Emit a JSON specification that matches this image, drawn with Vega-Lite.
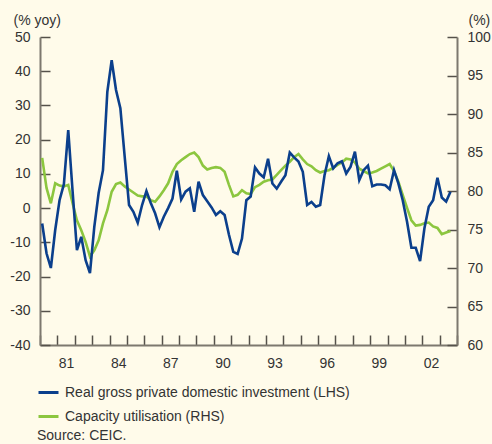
{
  "$schema": "https://vega.github.io/schema/vega-lite/v6.json",
  "width": 417,
  "height": 308,
  "autosize": {"type": "none"},
  "padding": {"left": 40, "top": 37, "right": 35, "bottom": 99},
  "background": "#fffbea",
  "config": {
    "view": {"stroke": null},
    "font": "Liberation Sans",
    "axis": {
      "domainColor": "#7d786e",
      "domainWidth": 2,
      "tickColor": "#55514a",
      "tickWidth": 1.5,
      "tickSize": -10,
      "labelFont": "Liberation Sans",
      "labelFontSize": 14,
      "labelColor": "#333333",
      "grid": false,
      "titleFont": "Liberation Sans",
      "titleFontSize": 14,
      "titleFontWeight": "normal",
      "titleColor": "#333333"
    },
    "legend": {
      "orient": "none",
      "legendX": -3,
      "legendY": 344,
      "symbolType": "stroke",
      "symbolStrokeWidth": 3,
      "symbolSize": 400,
      "labelFont": "Liberation Sans",
      "labelFontSize": 14,
      "labelColor": "#333333",
      "labelLimit": 0,
      "rowPadding": 5,
      "padding": 0,
      "labelOffset": 5
    }
  },
  "title": {
    "text": "Source: CEIC.",
    "orient": "bottom",
    "anchor": "start",
    "frame": "group",
    "font": "Liberation Sans",
    "fontSize": 14,
    "fontWeight": "normal",
    "color": "#333333",
    "offset": 5,
    "dx": -3
  },
  "data": {
    "values": [
      {"t": 1980.125, "inv": -4.5, "cap": 84.3},
      {"t": 1980.375, "inv": -13.2, "cap": 80.4},
      {"t": 1980.625, "inv": -17.5, "cap": 78.4},
      {"t": 1980.875, "inv": -6.4, "cap": 81.0},
      {"t": 1981.125, "inv": 2.3, "cap": 80.7},
      {"t": 1981.375, "inv": 7.0, "cap": 80.6},
      {"t": 1981.625, "inv": 22.8, "cap": 80.8},
      {"t": 1981.875, "inv": 5.0, "cap": 78.4},
      {"t": 1982.125, "inv": -12.3, "cap": 76.2},
      {"t": 1982.375, "inv": -8.4, "cap": 74.9},
      {"t": 1982.625, "inv": -15.2, "cap": 73.4},
      {"t": 1982.875, "inv": -19.0, "cap": 71.5},
      {"t": 1983.125, "inv": -5.5, "cap": 72.3},
      {"t": 1983.375, "inv": 4.4, "cap": 73.6},
      {"t": 1983.625, "inv": 11.1, "cap": 75.8},
      {"t": 1983.875, "inv": 34.0, "cap": 77.5},
      {"t": 1984.125, "inv": 43.2, "cap": 79.9},
      {"t": 1984.375, "inv": 34.5, "cap": 80.9},
      {"t": 1984.625, "inv": 29.2, "cap": 81.1},
      {"t": 1984.875, "inv": 15.0, "cap": 80.6},
      {"t": 1985.125, "inv": 0.9, "cap": 80.2},
      {"t": 1985.375, "inv": -1.1, "cap": 79.8},
      {"t": 1985.625, "inv": -4.3, "cap": 79.4},
      {"t": 1985.875, "inv": 0.9, "cap": 79.3},
      {"t": 1986.125, "inv": 5.0, "cap": 79.3},
      {"t": 1986.375, "inv": 1.5, "cap": 78.8},
      {"t": 1986.625, "inv": -1.5, "cap": 78.6},
      {"t": 1986.875, "inv": -5.6, "cap": 79.3},
      {"t": 1987.125, "inv": -2.5, "cap": 80.1},
      {"t": 1987.375, "inv": 0.0, "cap": 81.0},
      {"t": 1987.625, "inv": 2.8, "cap": 82.5},
      {"t": 1987.875, "inv": 10.9, "cap": 83.5},
      {"t": 1988.125, "inv": 2.5, "cap": 84.0},
      {"t": 1988.375, "inv": 4.8, "cap": 84.4},
      {"t": 1988.625, "inv": 5.8, "cap": 84.8},
      {"t": 1988.875, "inv": -1.1, "cap": 85.0},
      {"t": 1989.125, "inv": 7.7, "cap": 84.4},
      {"t": 1989.375, "inv": 3.8, "cap": 83.3},
      {"t": 1989.625, "inv": 2.0, "cap": 82.8},
      {"t": 1989.875, "inv": 0.2, "cap": 83.0},
      {"t": 1990.125, "inv": -2.0, "cap": 83.1},
      {"t": 1990.375, "inv": -0.9, "cap": 83.0},
      {"t": 1990.625, "inv": -2.0, "cap": 82.5},
      {"t": 1990.875, "inv": -7.8, "cap": 80.8},
      {"t": 1991.125, "inv": -12.8, "cap": 79.3},
      {"t": 1991.375, "inv": -13.4, "cap": 79.5},
      {"t": 1991.625, "inv": -8.9, "cap": 80.1},
      {"t": 1991.875, "inv": 2.3, "cap": 79.7},
      {"t": 1992.125, "inv": 3.4, "cap": 79.6},
      {"t": 1992.375, "inv": 11.9, "cap": 80.5},
      {"t": 1992.625, "inv": 10.1, "cap": 80.8},
      {"t": 1992.875, "inv": 9.0, "cap": 81.2},
      {"t": 1993.125, "inv": 14.4, "cap": 81.4},
      {"t": 1993.375, "inv": 7.2, "cap": 81.5},
      {"t": 1993.625, "inv": 5.7, "cap": 82.1},
      {"t": 1993.875, "inv": 7.7, "cap": 82.7},
      {"t": 1994.125, "inv": 9.6, "cap": 83.3},
      {"t": 1994.375, "inv": 16.2, "cap": 83.8},
      {"t": 1994.625, "inv": 14.8, "cap": 84.4},
      {"t": 1994.875, "inv": 13.6, "cap": 84.8},
      {"t": 1995.125, "inv": 10.6, "cap": 84.1},
      {"t": 1995.375, "inv": 0.9, "cap": 83.5},
      {"t": 1995.625, "inv": 1.8, "cap": 83.2},
      {"t": 1995.875, "inv": 0.4, "cap": 82.7},
      {"t": 1996.125, "inv": 0.9, "cap": 82.4},
      {"t": 1996.375, "inv": 9.6, "cap": 82.6},
      {"t": 1996.625, "inv": 15.2, "cap": 82.7},
      {"t": 1996.875, "inv": 11.6, "cap": 83.0},
      {"t": 1997.125, "inv": 13.1, "cap": 83.4},
      {"t": 1997.375, "inv": 13.7, "cap": 83.7},
      {"t": 1997.625, "inv": 10.1, "cap": 84.2},
      {"t": 1997.875, "inv": 12.1, "cap": 84.1},
      {"t": 1998.125, "inv": 16.5, "cap": 83.7},
      {"t": 1998.375, "inv": 8.2, "cap": 82.9},
      {"t": 1998.625, "inv": 11.1, "cap": 82.6},
      {"t": 1998.875, "inv": 12.4, "cap": 82.3},
      {"t": 1999.125, "inv": 6.4, "cap": 82.4},
      {"t": 1999.375, "inv": 6.9, "cap": 82.6},
      {"t": 1999.625, "inv": 6.9, "cap": 82.9},
      {"t": 1999.875, "inv": 6.7, "cap": 83.2},
      {"t": 2000.125, "inv": 5.5, "cap": 83.5},
      {"t": 2000.375, "inv": 11.1, "cap": 82.6},
      {"t": 2000.625, "inv": 7.2, "cap": 81.2},
      {"t": 2000.875, "inv": 2.3, "cap": 79.5},
      {"t": 2001.125, "inv": -4.0, "cap": 77.8},
      {"t": 2001.375, "inv": -11.6, "cap": 76.2},
      {"t": 2001.625, "inv": -11.6, "cap": 75.5},
      {"t": 2001.875, "inv": -15.5, "cap": 75.6},
      {"t": 2002.125, "inv": -5.9, "cap": 75.8},
      {"t": 2002.375, "inv": 0.4, "cap": 75.9},
      {"t": 2002.625, "inv": 2.3, "cap": 75.4},
      {"t": 2002.875, "inv": 8.9, "cap": 75.2},
      {"t": 2003.125, "inv": 3.1, "cap": 74.4},
      {"t": 2003.375, "inv": 1.9, "cap": 74.6},
      {"t": 2003.625, "inv": 4.8, "cap": 74.8}
    ]
  },
  "encoding": {
    "x": {
      "field": "t",
      "type": "quantitative",
      "scale": {"domain": [1980, 2004], "nice": false, "zero": false},
      "axis": {
        "title": null,
        "values": [1980, 1981, 1982, 1983, 1984, 1985, 1986, 1987, 1988, 1989, 1990, 1991, 1992, 1993, 1994, 1995, 1996, 1997, 1998, 1999, 2000, 2001, 2002, 2003, 2004],
        "labelExpr": "(datum.value - 1981) % 3 == 0 && datum.value < 2004 ? substring(toString(datum.value), 2) : ''",
        "labelOffset": 8.67,
        "labelFlush": false,
        "labelOverlap": false,
        "labelPadding": 21,
        "labelBaseline": "top"
      }
    }
  },
  "layer": [
    {
      "mark": {"type": "line", "strokeWidth": 2.6, "clip": true},
      "encoding": {
        "y": {
          "field": "cap",
          "type": "quantitative",
          "scale": {"domain": [60, 100], "nice": false, "zero": false},
          "axis": {
            "orient": "right",
            "values": [60, 65, 70, 75, 80, 85, 90, 95, 100],
            "labelPadding": 20,
            "title": "(%)",
            "titleAngle": 0,
            "titleAlign": "left",
            "titleBaseline": "alphabetic",
            "titleX": 11,
            "titleY": -13
          }
        },
        "color": {
          "datum": "Capacity utilisation (RHS)",
          "type": "nominal",
          "scale": {
            "domain": ["Real gross private domestic investment (LHS)", "Capacity utilisation (RHS)"],
            "range": ["#0b3f8c", "#8cc63f"]
          },
          "legend": {"title": null}
        }
      }
    },
    {
      "mark": {"type": "line", "strokeWidth": 2.6, "clip": true},
      "encoding": {
        "y": {
          "field": "inv",
          "type": "quantitative",
          "scale": {"domain": [-40, 50], "nice": false, "zero": false},
          "axis": {
            "orient": "left",
            "values": [-40, -30, -20, -10, 0, 10, 20, 30, 40, 50],
            "labelExpr": "toString(datum.value)",
            "labelPadding": 20,
            "title": "(% yoy)",
            "titleAngle": 0,
            "titleAlign": "left",
            "titleBaseline": "alphabetic",
            "titleX": -27,
            "titleY": -13
          }
        },
        "color": {
          "datum": "Real gross private domestic investment (LHS)",
          "type": "nominal"
        }
      }
    }
  ],
  "resolve": {"scale": {"y": "independent"}}
}
